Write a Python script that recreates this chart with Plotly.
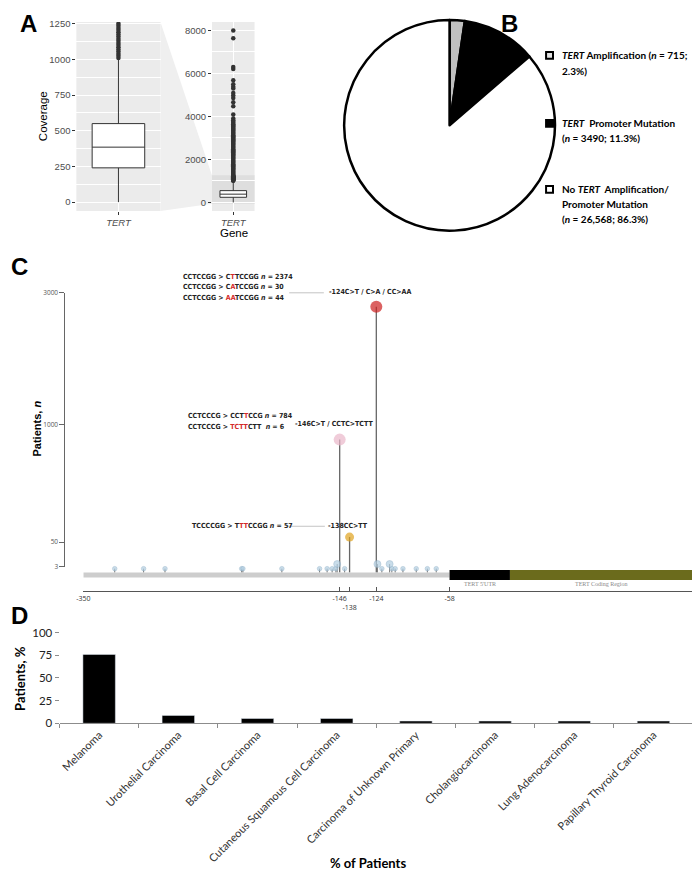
import numpy as np
import plotly.graph_objects as go

# the page body has an 8px margin, so the figure is drawn 8px in from the corner
OFF = 8
W, H = 700 - OFF, 882 - OFF


def px(x):
    return (x - OFF) / W


def py(y):
    return 1 - (y - OFF) / H


# ---------------- A: coverage box plot ----------------
cov_q1 = 240
cov_median = 385
cov_q3 = 550
cov_lowerfence = 0
cov_upperfence = 1010
cov_outliers = [1010, 1025, 1040, 1055, 1070, 1085, 1100, 1115, 1130, 1145, 1160, 1175,
                1190, 1205, 1220, 1235, 1250, 1290, 1330, 1380, 1430, 1480, 1530, 1580,
                1630, 1680, 1730, 1780, 1830, 1880, 1930, 1980, 2030, 2080, 2130, 2180,
                2230, 2280, 2330, 2380, 2430, 2480, 2530, 2580, 2630, 2680, 2730, 2780,
                2830, 2880, 2930, 2980, 3030, 3080, 3130, 3180, 3230, 3280, 3330, 3380,
                3430, 3480, 3530, 3580, 3640, 3700, 3760, 3820, 3900,
                4090, 4470, 4660, 4860, 4970, 5090, 5300, 5380, 5500, 5680,
                6210, 6300, 7640, 8000]

# ---------------- B: pie ----------------
pie_names = ["TERT Amplification", "TERT Promoter Mutation",
             "No TERT Amplification/Promoter Mutation"]
pie_n = [715, 3490, 26568]
pie_pct = [2.3, 11.3, 86.3]
pie_colors = ["#c0c0c0", "#000000", "#ffffff"]

# ---------------- C: lollipop ----------------
hot_pos = [-124, -146, -138]
hot_n = [2790, 880, 90]
hot_colors = ["#cc1f1f", "#eab6c9", "#e0a21e"]
hot_size = [12, 12, 9]

minor_pos = [-325, -302, -285, -224, -223, -192, -162, -156, -152, -149, -142,
             -119, -110, -107, -100, -88, -78, -70, -148, -123, -112]
minor_n = [2, 2, 2, 2, 2, 2, 2, 2, 2, 2, 2,
           2, 2, 2, 2, 2, 2, 2, 8, 8, 8]

# genomic position -> drawing position (the diagram axis is not linear)
axis_pos = [-350, -146, -138, -124, -58, 0, 175]
axis_disp = [77, 336, 346, 373, 447, 508, 692]
# patient count -> drawing height (stepped axis)
count_vals = [0, 3, 50, 1000, 3000]
count_disp = [0, 6, 31, 150, 284]

pos_ticks = [-350, -146, -138, -124, -58]
pos_ticktext = ["-350", "-146", "<br>-138", "-124", "-58"]

region_start = [-350, -58, 0]
region_end = [-58, 0, 175]
region_color = ["#cdcdcd", "#000000", "#6b6b1c"]
region_half = [2.5, 5, 5]
region_label = ["", "TERT 5'UTR", "TERT Coding Region"]


def xd(g):
    return np.interp(g, axis_pos, axis_disp)


def yd(n):
    return np.interp(n, count_vals, count_disp)


# ---------------- D: tumour types ----------------
cancers = ["Melanoma", "Urothelial Carcinoma", "Basal Cell Carcinoma",
           "Cutaneous Squamous Cell Carcinoma", "Carcinoma of Unknown Primary",
           "Cholangiocarcinoma", "Lung Adenocarcinoma", "Papillary Thyroid Carcinoma"]
cancer_pct = [76, 8.7, 5.3, 5.3, 2.5, 2.5, 2.5, 2.5]

RED = "#d42a2a"
fig = go.Figure()

# A
for xa, ya in [("x", "y"), ("x2", "y2")]:
    fig.add_trace(go.Box(x=[1], q1=[cov_q1], median=[cov_median], q3=[cov_q3],
                         lowerfence=[cov_lowerfence], upperfence=[cov_upperfence],
                         width=0.75, whiskerwidth=0, fillcolor="white",
                         line=dict(color="#333333", width=1), boxpoints=False,
                         xaxis=xa, yaxis=ya, showlegend=False, hoverinfo="skip"))
    fig.add_trace(go.Scatter(x=[1] * len(cov_outliers), y=cov_outliers, mode="markers",
                             marker=dict(size=4.5, color="#333333"),
                             xaxis=xa, yaxis=ya, showlegend=False, hoverinfo="skip"))

# B
fig.add_trace(go.Pie(values=pie_n, labels=pie_names, sort=False, direction="clockwise",
                     marker=dict(colors=pie_colors, line=dict(color="black", width=2.5)),
                     textinfo="none", hoverinfo="skip", showlegend=False,
                     domain=dict(x=[px(340), px(554)], y=[py(227), py(13)])))

# C stems
sx, sy = [], []
for g, n in zip(minor_pos, minor_n):
    sx += [xd(g), xd(g), None]
    sy += [0, yd(n), None]
fig.add_trace(go.Scatter(x=sx, y=sy, mode="lines", line=dict(color="#777777", width=1),
                         xaxis="x3", yaxis="y3", showlegend=False, hoverinfo="skip"))
sx, sy = [], []
for g, n in zip(hot_pos, hot_n):
    sx += [xd(g), xd(g), None]
    sy += [0, yd(n), None]
fig.add_trace(go.Scatter(x=sx, y=sy, mode="lines", line=dict(color="#666666", width=1.3),
                         xaxis="x3", yaxis="y3", showlegend=False, hoverinfo="skip"))
fig.add_trace(go.Scatter(x=xd(minor_pos), y=yd(minor_n), mode="markers",
                         marker=dict(size=[4.5 if n < 5 else 7 for n in minor_n],
                                     color="#b3cfe2", line=dict(color="#86a9c2", width=0.6)),
                         xaxis="x3", yaxis="y3", showlegend=False, hoverinfo="skip"))
fig.add_trace(go.Scatter(x=xd(hot_pos), y=yd(hot_n), mode="markers",
                         marker=dict(size=hot_size, color=hot_colors, line=dict(width=0)),
                         xaxis="x3", yaxis="y3", showlegend=False, hoverinfo="skip"))
# dummy trace so the stepped count axis is drawn
fig.add_trace(go.Scatter(x=[100], y=[100], mode="markers", marker=dict(opacity=0),
                         xaxis="x3", yaxis="y4", showlegend=False, hoverinfo="skip"))

# D
fig.add_trace(go.Bar(x=cancers, y=cancer_pct, width=0.41, marker=dict(color="black"),
                     xaxis="x5", yaxis="y5", showlegend=False, hoverinfo="skip"))

shapes = []
# A panel backgrounds, zoom band and connector
for xa, ya in [("x", "y"), ("x2", "y2")]:
    shapes.append(dict(type="rect", xref=xa + " domain", yref=ya + " domain", x0=0, x1=1,
                       y0=0, y1=1, fillcolor="#ebebeb", line=dict(width=0), layer="below"))
shapes.append(dict(type="rect", xref="x2 domain", yref="y2", x0=0, x1=1, y0=-62.5, y1=1262.5,
                   fillcolor="#dedede", line=dict(width=0), layer="below"))
conn = [(155, 15), (207, 170.8), (207, 199.7), (155, 207)]
path = "M " + " L ".join(f"{px(a):.4f},{py(b):.4f}" for a, b in conn) + " Z"
shapes.append(dict(type="path", xref="paper", yref="paper", path=path,
                   fillcolor="#efefef", line=dict(width=0), layer="below"))

# B legend keys
key_y = [49, 118, 185]
key_fill = ["#e4e4e4", "#000000", "#ffffff"]
for yk, fc in zip(key_y, key_fill):
    shapes.append(dict(type="rect", xref="paper", yref="paper", x0=px(544.5), x1=px(551.5),
                       y0=py(yk + 3.5), y1=py(yk - 3.5), fillcolor=fc,
                       line=dict(color="black", width=2)))

# C gene regions
for a, b, c, h in zip(region_start, region_end, region_color, region_half):
    shapes.append(dict(type="rect", xref="x3", yref="y3", x0=xd(a), x1=xd(b),
                       y0=-2.5 - h, y1=-2.5 + h, fillcolor=c, line=dict(width=0)))
# connector lines to mutation labels
for x0, x1, yy in [(285, 320, 290), (283, 321, 527)]:
    shapes.append(dict(type="line", xref="paper", yref="paper", x0=px(x0), x1=px(x1),
                       y0=py(yy), y1=py(yy), line=dict(color="#aaaaaa", width=0.7)))

ann = []


def text(x, y, s, size=10, color="black", family="Liberation Sans", xanchor="center",
         angle=0):
    ann.append(dict(x=px(x), y=py(y), xref="paper", yref="paper", text=s, showarrow=False,
                    xanchor=xanchor, yanchor="middle", textangle=angle,
                    font=dict(size=size, color=color, family=family)))


# panel letters
for letter, lx, ly in [("A", 22, 17), ("B", 508, 17), ("C", 13, 263), ("D", 13, 618)]:
    text(lx, ly, f"<b>{letter}</b>", size=24, family="Liberation Sans")

# A titles
text(37, 111, "Coverage", size=11.5, angle=-90)
text(229, 229, "Gene", size=11.5)

# B legend text
LEG = "Lato"
legend_lines = [
    [(49, f"<b><i>TERT</i> Amplification (<i>n</i> = {pie_n[0]:,};</b>"),
     (65, f"<b>{pie_pct[0]}%)</b>")],
    [(118, "<b><i>TERT</i>&nbsp; Promoter Mutation</b>"),
     (133, f"<b>(<i>n</i> = {pie_n[1]}; {pie_pct[1]}%)</b>")],
    [(185, "<b>No <i>TERT</i>&nbsp; Amplification/</b>"),
     (200, "<b>Promoter Mutation</b>"),
     (215, f"<b>(<i>n</i> = {pie_n[2]:,}; {pie_pct[2]}%)</b>")],
]
for item in legend_lines:
    for yy, s in item:
        text(559, yy, s, size=10, family=LEG, xanchor="left")

# C sequence annotations
SEQ = "Liberation Sans Narrow, DejaVu Sans Condensed, Roboto"


def red(s):
    return f"<span style='color:{RED}'>{s}</span>"


seq_lines = [
    (176, 274, f"CCTCCGG &gt; C{red('T')}TCCGG <i>n</i> = 2374"),
    (176, 284.5, f"CCTCCGG &gt; C{red('A')}TCCGG <i>n</i> = 30"),
    (176, 295, f"CCTCCGG &gt; {red('AA')}TCCGG <i>n</i> = 44"),
    (181, 415, f"CCTCCCG &gt; CCT{red('T')}CCG <i>n</i> = 784"),
    (181, 426, f"CCTCCCG &gt; {red('TCTT')}CTT&nbsp; <i>n</i> = 6"),
    (185, 527, f"TCCCCGG &gt; T{red('TT')}CCGG <i>n</i> = 57"),
    (323, 289, "-124C&gt;T / C&gt;A / CC&gt;AA"),
    (289, 423, "-146C&gt;T / CCTC&gt;TCTT"),
    (322, 527, "-138CC&gt;TT"),
]
for x, y, s in seq_lines:
    text(x, y, f"<b>{s}</b>", size=7, color="#222222", family=SEQ, xanchor="left")

for a, b, lab in zip(region_start, region_end, region_label):
    if lab:
        ann.append(dict(x=(xd(a) + xd(b)) / 2, y=-12, xref="x3", yref="y3", text=lab,
                        showarrow=False, font=dict(size=6, color="#8a8a8a",
                                                   family="Liberation Serif")))

text(30, 428, "<b>Patients, <i>n</i></b>", size=11, angle=-90)

# D titles
text(13, 681, "<b>Patients, %</b>", size=13, family="Lato", angle=-90)
text(365, 869, "<b>% of Patients</b>", size=13, family="Lato")

fig.update_layout(
    width=W, height=H, margin=dict(l=0, r=0, t=0, b=0),
    paper_bgcolor="white", plot_bgcolor="rgba(0,0,0,0)",
    shapes=shapes, annotations=ann, showlegend=False,
    font=dict(family="Liberation Sans", color="#333333"),
)

axA = dict(range=[0.4, 1.6], tickvals=[1], ticktext=["<i>TERT</i>"], showgrid=True,
           gridcolor="white", gridwidth=1, zeroline=False, ticks="outside", ticklen=3,
           tickcolor="#333333", tickfont=dict(size=9.5, color="#4d4d4d"))
fig.update_layout(
    xaxis=dict(domain=[px(70), px(155)], anchor="y", **axA),
    xaxis2=dict(domain=[px(207), px(250)], anchor="y2", **axA),
    yaxis=dict(domain=[py(207), py(15)], anchor="x", range=[-62.5, 1262.5],
               tickvals=[0, 250, 500, 750, 1000, 1250], showgrid=True, gridcolor="white",
               gridwidth=1, zeroline=False, ticks="outside", ticklen=3, tickcolor="#333333",
               tickfont=dict(size=9.5, color="#4d4d4d"),
               minor=dict(dtick=125, tick0=0, showgrid=True, gridcolor="white",
                          gridwidth=0.5)),
    yaxis2=dict(domain=[py(207), py(15)], anchor="x2", range=[-400, 8400],
                tickvals=[0, 2000, 4000, 6000, 8000], showgrid=True, gridcolor="white",
                gridwidth=1, zeroline=False, ticks="outside", ticklen=3, tickcolor="#333333",
                tickfont=dict(size=9.5, color="#4d4d4d"),
                minor=dict(dtick=1000, tick0=0, showgrid=True, gridcolor="white",
                           gridwidth=0.5)),
    xaxis3=dict(domain=[px(77), px(692)], range=[77, 692], anchor="free", position=py(593),
                tickvals=list(xd(pos_ticks)) + [692], ticktext=pos_ticktext + [""],
                tickangle=0, ticks="inside", ticklen=4, tickcolor="#555555", showline=True,
                linecolor="#555555", linewidth=1.2, showgrid=False, zeroline=False,
                tickfont=dict(size=7, color="#333333", family="Open Sans")),
    yaxis3=dict(domain=[py(600), py(280)], range=[-26, 294], anchor="x3", visible=False),
    yaxis4=dict(domain=[py(568), py(290)], range=[6, 284], anchor="free", position=px(58),
                tickvals=list(yd(count_vals[1:])), ticktext=[str(v) for v in count_vals[1:]],
                ticks="outside", ticklen=5, tickcolor="#666666", showline=True,
                linecolor="#666666", linewidth=1.2, showgrid=False, zeroline=False,
                tickfont=dict(size=6.5, color="#555555", family="Open Sans")),
    xaxis5=dict(domain=[px(53), px(693)], anchor="y5", type="category",
                tickson="boundaries", ticks="outside", ticklen=4, tickcolor="#8c8c8c",
                showline=True, linecolor="#8c8c8c", showgrid=False, tickangle=-45,
                tickfont=dict(size=11, color="#333333", family="Lato")),
    yaxis5=dict(domain=[py(727), py(635)], anchor="x5", range=[0, 100],
                tickvals=[0, 25, 50, 75, 100], ticks="outside", ticklen=4,
                tickcolor="#8c8c8c", showline=False, showgrid=False, zeroline=False,
                tickfont=dict(size=11.5, color="#222222", family="Lato")),
)

fig.write_html("out.html")
